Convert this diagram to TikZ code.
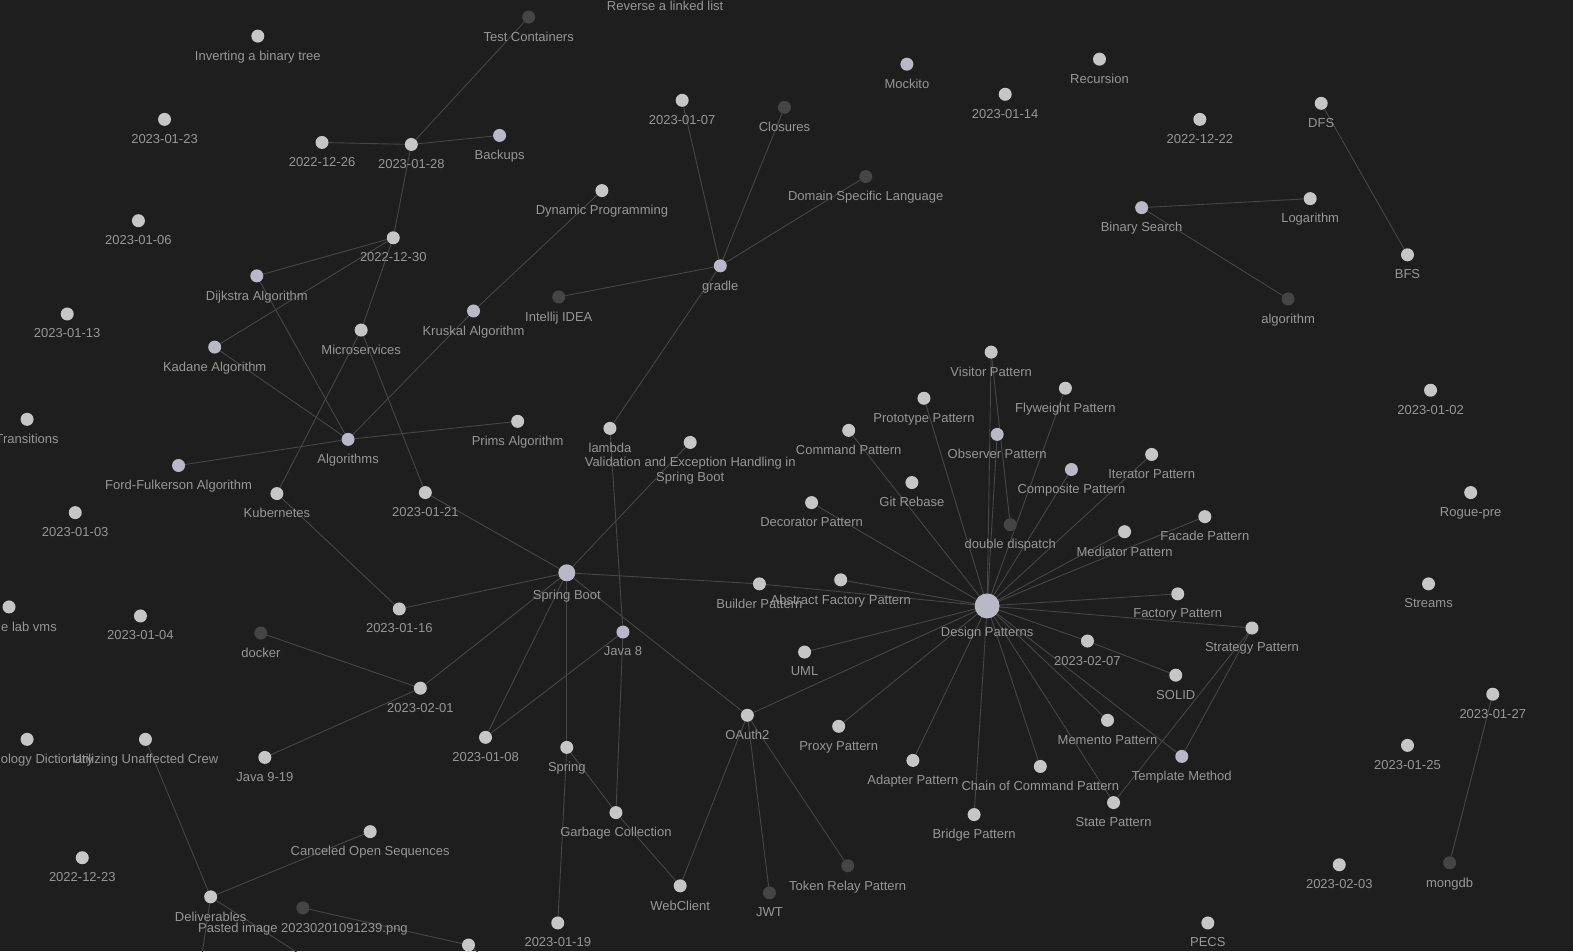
\documentclass[tikz,border=0pt]{standalone}
\usepackage{fontspec}
\usepackage{xcolor}
\usepackage{tikz}
\usetikzlibrary{backgrounds}
\newfontfamily\graphfont{Liberation Sans}
\definecolor{canvas}{HTML}{1E1E1E}
\definecolor{edgegray}{HTML}{474747}
\definecolor{dotgray}{HTML}{C6C6C6}
\definecolor{dotblue}{HTML}{B8B8C6}
\definecolor{dotdark}{HTML}{454545}
\definecolor{labelgray}{HTML}{979797}

\begin{document}
\begin{tikzpicture}[x=1.00319pt, y=-1.00319pt,
  dot/.style={circle, fill=dotgray, inner sep=0pt, minimum size=13pt},
  bluedot/.style={dot, fill=dotblue},
  darkdot/.style={dot, fill=dotdark},
  hub/.style={bluedot, minimum size=17pt},
  bighub/.style={bluedot, minimum size=25pt},
  link/.style={edgegray, line width=0.9pt},
  label distance=8pt,
  every label/.style={font={\graphfont\fontsize{13}{15}\selectfont}, text=labelgray, inner sep=0pt}]
  \useasboundingbox (0,0) rectangle (1568,948);
  \node[darkdot, label={below:Reverse a linked list}] (rev) at (663,-14) {};
  \node[dot, label={below:Inverting a binary tree}] (inv) at (257,36) {};
  \node[darkdot, label={below:Test Containers}] (testc) at (527,17) {};
  \node[dot, label={below:2023-01-23}] (d0123) at (164,119) {};
  \node[dot, label={below:2022-12-26}] (d1226) at (321,142) {};
  \node[dot, label={below:2023-01-28}] (d0128) at (410,144) {};
  \node[bluedot, label={below:Backups}] (backups) at (498,135) {};
  \node[dot, label={below:2023-01-06}] (d0106) at (138,220) {};
  \node[dot, label={below:2022-12-30}] (d1230) at (392,237) {};
  \node[bluedot, label={below:Dijkstra Algorithm}] (dijkstra) at (256,275) {};
  \node[dot, label={below:2023-01-13}] (d0113) at (67,313) {};
  \node[bluedot, label={below:Kadane Algorithm}] (kadane) at (214,346) {};
  \node[dot, label={below:Microservices}] (micro) at (360,329) {};
  \node[bluedot, label={below:Kruskal Algorithm}] (kruskal) at (472,310) {};
  \node[darkdot, label={below:Intellij IDEA}] (intellij) at (557,296) {};
  \node[dot, label={below:Dynamic Programming}] (dynprog) at (600,190) {};
  \node[dot, label={below:2023-01-07}] (d0107) at (680,100) {};
  \node[darkdot, label={below:Closures}] (closures) at (782,107) {};
  \node[darkdot, label={below:Domain Specific Language}] (dsl) at (863,176) {};
  \node[bluedot, label={below:gradle}] (gradle) at (718,265) {};
  \node[bluedot, label={below:Mockito}] (mockito) at (904,64) {};
  \node[dot, label={below:2023-01-14}] (d0114) at (1002,94) {};
  \node[dot, label={below:Recursion}] (recursion) at (1096,59) {};
  \node[dot, label={below:2022-12-22}] (d1222) at (1196,119) {};
  \node[dot, label={below:DFS}] (dfs) at (1317,103) {};
  \node[bluedot, label={below:Binary Search}] (binsearch) at (1138,207) {};
  \node[dot, label={below:Logarithm}] (logarithm) at (1306,198) {};
  \node[dot, label={below:BFS}] (bfs) at (1403,254) {};
  \node[darkdot, label={below:algorithm}] (algorithm) at (1284,298) {};
  \node[dot, label={below:Transitions}] (transitions) at (27,418) {};
  \node[bluedot, label={below:Algorithms}] (algorithms) at (347,438) {};
  \node[dot, label={below:Prims Algorithm}] (prims) at (516,420) {};
  \node[bluedot, label={below:Ford-Fulkerson Algorithm}] (ford) at (178,464) {};
  \node[dot, label={below:Kubernetes}] (kube) at (276,492) {};
  \node[dot, label={below:2023-01-21}] (d0121) at (424,491) {};
  \node[dot, label={below:2023-01-03}] (d0103) at (75,511) {};
  \node[dot, label={below:lambda}] (lambda) at (608,427) {};
  \node[dot, label={[align=center]below:Validation and Exception Handling in\\Spring Boot}] (valid) at (688,441) {};
  \node[hub, label={below:Spring Boot}] (springboot) at (565,571) {};
  \node[dot, label={[xshift=20pt]below:e lab vms}] (labvms) at (9,605) {};
  \node[dot, label={below:2023-01-04}] (d0104) at (140,614) {};
  \node[dot, label={below:2023-01-16}] (d0116) at (398,607) {};
  \node[darkdot, label={below:docker}] (docker) at (260,631) {};
  \node[dot, label={below:Builder Pattern}] (builder) at (757,582) {};
  \node[dot, label={below:Abstract Factory Pattern}] (absfact) at (838,578) {};
  \node[dot, label={below:Decorator Pattern}] (decorator) at (809,501) {};
  \node[dot, label={below:Command Pattern}] (command) at (846,429) {};
  \node[dot, label={below:Prototype Pattern}] (prototype) at (921,397) {};
  \node[dot, label={below:Visitor Pattern}] (visitor) at (988,351) {};
  \node[dot, label={below:Flyweight Pattern}] (flyweight) at (1062,387) {};
  \node[bluedot, label={below:Observer Pattern}] (observer) at (994,433) {};
  \node[dot, label={below:Git Rebase}] (gitrebase) at (909,481) {};
  \node[bluedot, label={below:Composite Pattern}] (composite) at (1068,468) {};
  \node[dot, label={below:Iterator Pattern}] (iterator) at (1148,453) {};
  \node[darkdot, label={below:double dispatch}] (ddispatch) at (1007,523) {};
  \node[dot, label={below:Mediator Pattern}] (mediator) at (1121,530) {};
  \node[dot, label={below:Facade Pattern}] (facade) at (1201,515) {};
  \node[bighub, label={below:Design Patterns}] (designp) at (984,604) {};
  \node[dot, label={below:Factory Pattern}] (factory) at (1174,592) {};
  \node[dot, label={below:Strategy Pattern}] (strategy) at (1248,626) {};
  \node[dot, label={below:2023-02-07}] (d0207) at (1084,639) {};
  \node[dot, label={below:SOLID}] (solid) at (1172,673) {};
  \node[dot, label={below:UML}] (uml) at (802,650) {};
  \node[bluedot, label={below:Java 8}] (java8) at (621,630) {};
  \node[dot, label={below:2023-02-01}] (d0201) at (419,686) {};
  \node[dot, label={below:2023-01-08}] (d0108) at (484,735) {};
  \node[dot, label={below:Java 9-19}] (java919) at (264,755) {};
  \node[dot, label={[xshift=20pt]below:ology Dictionary}] (techdict) at (27,737) {};
  \node[dot, label={below:Utilizing Unaffected Crew}] (utilizing) at (145,737) {};
  \node[dot, label={below:OAuth2}] (oauth2) at (745,713) {};
  \node[dot, label={below:Spring}] (spring) at (565,745) {};
  \node[dot, label={below:Proxy Pattern}] (proxy) at (836,724) {};
  \node[dot, label={below:Adapter Pattern}] (adapter) at (910,758) {};
  \node[dot, label={below:Memento Pattern}] (memento) at (1104,718) {};
  \node[bluedot, label={below:Template Method}] (template) at (1178,754) {};
  \node[dot, label={below:Chain of Command Pattern}] (chain) at (1037,764) {};
  \node[dot, label={below:State Pattern}] (state) at (1110,800) {};
  \node[dot, label={below:Bridge Pattern}] (bridge) at (971,812) {};
  \node[dot, label={below:Garbage Collection}] (gc) at (614,810) {};
  \node[dot, label={below:Canceled Open Sequences}] (canceled) at (369,829) {};
  \node[dot, label={below:2022-12-23}] (d1223) at (82,855) {};
  \node[dot, label={below:Deliverables}] (deliver) at (210,894) {};
  \node[darkdot, label={below:Pasted image 20230201091239.png}] (pasted) at (302,905) {};
  \node[dot] (lowdot) at (467,942) {};
  \node[dot, label={below:WebClient}] (webclient) at (678,883) {};
  \node[darkdot, label={below:JWT}] (jwt) at (767,890) {};
  \node[darkdot, label={below:Token Relay Pattern}] (tokenrelay) at (845,863) {};
  \node[dot, label={below:2023-01-19}] (d0119) at (556,920) {};
  \node[dot, label={below:PECS}] (pecs) at (1204,920) {};
  \node[dot, label={below:2023-02-03}] (d0203) at (1335,862) {};
  \node[darkdot, label={below:mongdb}] (mongdb) at (1445,860) {};
  \node[dot, label={below:2023-01-27}] (d0127) at (1488,692) {};
  \node[dot, label={below:2023-01-25}] (d0125) at (1403,743) {};
  \node[dot, label={below:Streams}] (streams) at (1424,582) {};
  \node[dot, label={below:Rogue-pre}] (rogue) at (1466,491) {};
  \node[dot, label={below:2023-01-02}] (d0102) at (1426,389) {};
  \coordinate (offleft) at (194,1000);
  \coordinate (offright) at (375,1000);
  \coordinate (offlow) at (527,987);
  \begin{scope}[on background layer]
    \fill[canvas] (0,0) rectangle (1568,948);
    \draw[link] (testc) -- (d0128);
    \draw[link] (d1226) -- (d0128);
    \draw[link] (d0128) -- (backups);
    \draw[link] (d0128) -- (d1230);
    \draw[link] (d1230) -- (dijkstra);
    \draw[link] (d1230) -- (kadane);
    \draw[link] (d1230) -- (micro);
    \draw[link] (dijkstra) -- (algorithms);
    \draw[link] (kadane) -- (algorithms);
    \draw[link] (kruskal) -- (algorithms);
    \draw[link] (dynprog) -- (kruskal);
    \draw[link] (prims) -- (algorithms);
    \draw[link] (ford) -- (algorithms);
    \draw[link] (micro) -- (kube);
    \draw[link] (micro) -- (d0121);
    \draw[link] (kube) -- (d0116);
    \draw[link] (gradle) -- (d0107);
    \draw[link] (gradle) -- (closures);
    \draw[link] (gradle) -- (dsl);
    \draw[link] (gradle) -- (intellij);
    \draw[link] (gradle) -- (lambda);
    \draw[link] (lambda) -- (java8);
    \draw[link] (java8) -- (gc);
    \draw[link] (valid) -- (springboot);
    \draw[link] (springboot) -- (d0121);
    \draw[link] (springboot) -- (d0116);
    \draw[link] (springboot) -- (builder);
    \draw[link] (springboot) -- (d0201);
    \draw[link] (springboot) -- (d0108);
    \draw[link] (springboot) -- (spring);
    \draw[link] (springboot) -- (oauth2);
    \draw[link] (d0201) -- (docker);
    \draw[link] (d0201) -- (java919);
    \draw[link] (d0108) -- (java8);
    \draw[link] (spring) -- (gc);
    \draw[link] (spring) -- (d0119);
    \draw[link] (gc) -- (webclient);
    \draw[link] (oauth2) -- (webclient);
    \draw[link] (oauth2) -- (jwt);
    \draw[link] (oauth2) -- (tokenrelay);
    \draw[link] (oauth2) -- (designp);
    \draw[link] (builder) -- (designp);
    \draw[link] (absfact) -- (designp);
    \draw[link] (decorator) -- (designp);
    \draw[link] (command) -- (designp);
    \draw[link] (prototype) -- (designp);
    \draw[link] (visitor) -- (designp);
    \draw[link] (visitor) -- (ddispatch);
    \draw[link] (observer) -- (designp);
    \draw[link] (flyweight) -- (designp);
    \draw[link] (composite) -- (designp);
    \draw[link] (iterator) -- (designp);
    \draw[link] (mediator) -- (designp);
    \draw[link] (facade) -- (designp);
    \draw[link] (factory) -- (designp);
    \draw[link] (strategy) -- (designp);
    \draw[link] (d0207) -- (designp);
    \draw[link] (d0207) -- (solid);
    \draw[link] (memento) -- (designp);
    \draw[link] (template) -- (designp);
    \draw[link] (state) -- (designp);
    \draw[link] (chain) -- (designp);
    \draw[link] (bridge) -- (designp);
    \draw[link] (adapter) -- (designp);
    \draw[link] (proxy) -- (designp);
    \draw[link] (uml) -- (designp);
    \draw[link] (strategy) -- (template);
    \draw[link] (strategy) -- (state);
    \draw[link] (dfs) -- (bfs);
    \draw[link] (binsearch) -- (logarithm);
    \draw[link] (binsearch) -- (algorithm);
    \draw[link] (d0127) -- (mongdb);
    \draw[link] (utilizing) -- (deliver);
    \draw[link] (deliver) -- (canceled);
    \draw[link] (deliver) -- (offleft);
    \draw[link] (deliver) -- (offright);
    \draw[link] (pasted) -- (lowdot);
    \draw[link] (lowdot) -- (offlow);
  \end{scope}
\end{tikzpicture}
\end{document}
